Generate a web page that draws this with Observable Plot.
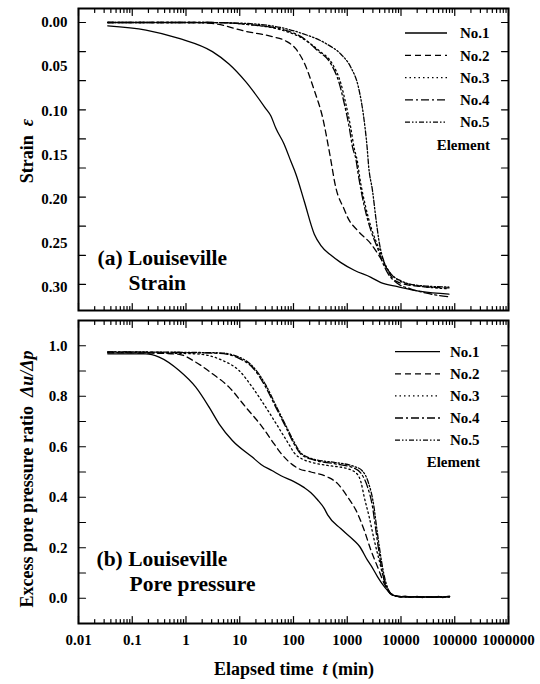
<!DOCTYPE html>
<html><head><meta charset="utf-8">
<script src="https://cdn.jsdelivr.net/npm/d3@7"></script>
<script src="https://cdn.jsdelivr.net/npm/@observablehq/plot@0.6"></script>
<style>
body{margin:0;background:#fff;}
#wrap{position:relative;width:540px;height:684px;font-family:"Liberation Serif","Times New Roman",serif;font-weight:bold;color:#000;background:#fff;}
#wrap svg{display:block;}
.ttl{position:absolute;white-space:nowrap;font-size:18px;font-weight:bold;line-height:1;}
</style></head><body><div id="wrap"></div>
<script>
// ---------- data ----------
const seriesNames = ["No.1", "No.2", "No.3", "No.4", "No.5"];
const xMajor = [0.01, 0.1, 1, 10, 100, 1000, 10000, 100000, 1000000];
const strainLabels = [0, 0.05, 0.10, 0.15, 0.20, 0.25, 0.30];
const strainTicks = [0, 0.033, 0.066, 0.099, 0.132, 0.165, 0.198, 0.231, 0.264, 0.297];
const poreLabels = [0, 0.2, 0.4, 0.6, 0.8, 1.0];
const poreTicks = [0, 0.1, 0.2, 0.3, 0.4, 0.5, 0.6, 0.7, 0.8, 0.9, 1.0];

// (a) Strain  [t (min), strain]
const strainNo1 = [[0.035,0.0037],[0.18,0.0085],[0.74,0.018],[3.1,0.033],[6.3,0.047],[12.9,0.067],[30,0.097],[38,0.106],[47,0.12],[67,0.138],[90,0.158],[111,0.172],[159,0.203],[244,0.24],[324,0.253],[500,0.264],[750,0.272],[1350,0.281],[2760,0.289],[4230,0.295],[8650,0.2995],[23400,0.305],[78000,0.308]];
const strainNo2 = [[0.035,0],[1,0],[3,0.001],[12.9,0.01],[40,0.016],[72,0.021],[111,0.03],[159,0.046],[244,0.077],[349,0.108],[463,0.146],[617,0.188],[880,0.212],[1016,0.221],[1560,0.236],[2760,0.251],[4880,0.274],[7480,0.292],[12000,0.297],[20000,0.299],[78000,0.301]];
const strainNo3 = [[0.035,0],[3,0],[13,0.002],[72,0.01],[138,0.017],[300,0.032],[530,0.047],[760,0.069],[940,0.092],[1160,0.119],[1340,0.142],[1540,0.157],[1700,0.175],[2200,0.209],[2900,0.236],[3800,0.255],[4700,0.27],[5800,0.281],[8800,0.292],[15000,0.297],[30000,0.3],[78000,0.302]];
const strainNo4 = [[0.035,0],[3,0],[13,0.002],[72,0.009],[138,0.016],[282,0.032],[498,0.047],[710,0.069],[880,0.092],[1090,0.119],[1260,0.142],[1450,0.155],[1600,0.172],[2070,0.208],[2760,0.236],[3670,0.256],[4550,0.272],[5640,0.284],[8650,0.296],[15000,0.302],[30000,0.307],[78000,0.311]];
const strainNo5 = [[0.035,0],[3,0],[13,0.001],[72,0.007],[138,0.012],[432,0.025],[764,0.036],[1170,0.051],[1610,0.073],[2000,0.105],[2330,0.14],[2520,0.165],[2940,0.19],[3410,0.222],[3950,0.25],[4880,0.272],[6490,0.285],[10000,0.293],[20000,0.298],[78000,0.3]];

// (b) Pore pressure ratio  [t (min), du/dp]
const poreNo1 = [[0.035,0.968],[0.179,0.968],[0.316,0.955],[0.745,0.902],[1.52,0.836],[2.69,0.757],[4.12,0.691],[7.28,0.625],[17.1,0.559],[24.9,0.53],[40.4,0.505],[58.6,0.485],[100,0.463],[159,0.438],[211,0.418],[280,0.39],[375,0.355],[432,0.33],[764,0.275],[1350,0.228],[1700,0.205],[2390,0.15],[2760,0.13],[3670,0.085],[4550,0.055],[5640,0.03],[7000,0.012],[10000,0.006],[12000,0.008],[15000,0.004],[20000,0.007],[25000,0.003],[30000,0.006],[40000,0.004],[50000,0.007],[60000,0.003],[70000,0.006],[80000,0.008]];
const poreNo2 = [[0.035,0.972],[0.36,0.97],[0.745,0.966],[1.52,0.935],[3.1,0.889],[6.32,0.836],[12.9,0.757],[26.3,0.678],[44,0.61],[58,0.575],[78,0.545],[120,0.515],[211,0.5],[432,0.48],[663,0.454],[1016,0.401],[1560,0.335],[2070,0.269],[2760,0.19],[3670,0.124],[4880,0.058],[6490,0.019],[8650,0.008],[15000,0.005],[40000,0.005],[80000,0.006]];
const poreNo3 = [[0.035,0.974],[1.52,0.968],[4.75,0.942],[9.7,0.902],[17.1,0.836],[30.4,0.757],[48,0.69],[82,0.61],[104,0.575],[150,0.55],[211,0.539],[432,0.526],[1016,0.513],[1560,0.49],[1800,0.46],[2070,0.401],[2560,0.322],[3180,0.23],[3930,0.15],[4880,0.071],[6490,0.019],[10000,0.006],[40000,0.005],[80000,0.006]];
const poreNo4 = [[0.035,0.976],[4.12,0.97],[9.7,0.95],[17.1,0.915],[30.4,0.836],[46.7,0.757],[71.7,0.678],[102,0.612],[138,0.57],[244,0.547],[573,0.533],[1350,0.515],[1800,0.495],[2390,0.44],[2960,0.361],[3410,0.269],[3930,0.177],[4550,0.098],[5640,0.032],[6980,0.012],[10000,0.006],[40000,0.005],[80000,0.006]];
const poreNo5 = [[0.035,0.976],[4.12,0.972],[9.7,0.955],[17.1,0.92],[30.4,0.845],[46.7,0.765],[71.7,0.685],[102,0.62],[138,0.575],[244,0.55],[573,0.538],[1350,0.522],[1900,0.505],[2500,0.455],[3100,0.37],[3550,0.275],[4100,0.18],[4750,0.1],[5800,0.035],[7200,0.012],[10000,0.006],[40000,0.005],[80000,0.006]];

// ---------- styles ----------
const dashes = ["none", "6,4", "1.5,3", "8,3,2,3", "5,2,1.5,2,1.5,2"];
const FONT = "'Liberation Serif', 'Times New Roman', serif";
const xMinor = xMajor.slice(0, -1).flatMap(d => [2,3,4,5,6,7,8,9].map(k => d * k));
const tickShape = {draw(ctx, l) { ctx.moveTo(0, 0); ctx.lineTo(0, -l); }};

function tickMarks(xMaj, xMin, yT) {
  const common = {anchor: "start", shape: tickShape, stroke: "black", strokeWidth: 1.2};
  return [
    Plot.vector(xMaj, {x: d => d, frameAnchor: "top", length: 7, rotate: 180, ...common}),
    Plot.vector(xMin, {x: d => d, frameAnchor: "top", length: 4, rotate: 180, ...common}),
    Plot.vector(xMaj, {x: d => d, frameAnchor: "bottom", length: 7, rotate: 0, ...common}),
    Plot.vector(xMin, {x: d => d, frameAnchor: "bottom", length: 4, rotate: 0, ...common}),
    Plot.vector(yT, {y: d => d, frameAnchor: "left", length: 7, rotate: 90, ...common}),
    Plot.vector(yT, {y: d => d, frameAnchor: "right", length: 7, rotate: -90, ...common})
  ];
}

function seriesLines(arrs) {
  return arrs.map((arr, i) => Plot.line(arr, {
    x: d => d[0], y: d => d[1], stroke: "black", strokeWidth: 1.3,
    strokeDasharray: dashes[i], curve: "monotone-x"
  }));
}

function addLegend(svg, x1, x2, xt, y0, dy, elemRight) {
  const g = d3.select(svg).append("g")
    .attr("font-family", FONT).attr("font-weight", "bold").attr("font-size", 15)
    .attr("text-anchor", "start");
  seriesNames.forEach((name, i) => {
    const y = y0 + i * dy;
    g.append("line").attr("x1", x1).attr("x2", x2).attr("y1", y).attr("y2", y)
      .attr("stroke", "black").attr("stroke-width", 1.3).attr("stroke-dasharray", dashes[i]);
    g.append("text").attr("x", xt).attr("y", y).attr("dy", "0.35em")
      .attr("text-anchor", "start").text(name);
  });
  g.append("text").attr("x", elemRight).attr("y", y0 + 5 * dy).attr("dy", "0.35em")
    .attr("text-anchor", "end").text("Element");
}

const styleObj = {fontFamily: FONT, fontSize: "15px", fontWeight: "bold", background: "white", color: "black"};

// ---------- top panel ----------
const topPlot = Plot.plot({
  width: 540, height: 312,
  marginTop: 8, marginBottom: 2, marginLeft: 78, marginRight: 32,
  x: {type: "log", domain: [0.01, 1e6], axis: null},
  y: {domain: [-0.0159, 0.3266], reverse: true, axis: null},
  style: styleObj,
  marks: [
    ...seriesLines([strainNo1, strainNo2, strainNo3, strainNo4, strainNo5]),
    ...tickMarks(xMajor, xMinor, strainTicks),
    Plot.axisY(strainLabels, {anchor: "left", tickSize: 0, tickPadding: 11, tickFormat: d3.format(".2f"), fontSize: 15, fontWeight: "bold"}),
    Plot.text(["(a) Louiseville"], {text: d => d, frameAnchor: "bottom-left", dx: 19, dy: -46, textAnchor: "start", fontSize: 21.5, fontWeight: "bold"}),
    Plot.text(["Strain"], {text: d => d, frameAnchor: "bottom-left", dx: 50, dy: -21, textAnchor: "start", fontSize: 21.5, fontWeight: "bold"}),
    Plot.frame({stroke: "black", strokeWidth: 2})
  ]
});

// ---------- bottom panel ----------
const bottomPlot = Plot.plot({
  width: 540, height: 372,
  marginTop: 8, marginBottom: 61, marginLeft: 78, marginRight: 32,
  x: {type: "log", domain: [0.01, 1e6], axis: null},
  y: {domain: [-0.1, 1.1], axis: null},
  style: styleObj,
  marks: [
    ...seriesLines([poreNo1, poreNo2, poreNo3, poreNo4, poreNo5]),
    ...tickMarks(xMajor, xMinor, poreTicks),
    Plot.axisY(poreLabels, {anchor: "left", tickSize: 0, tickPadding: 11, tickFormat: d3.format(".1f"), fontSize: 15, fontWeight: "bold"}),
    Plot.axisX(xMajor, {anchor: "bottom", tickSize: 0, tickPadding: 11, tickFormat: d => String(d), fontSize: 15, fontWeight: "bold", label: null}),
    Plot.text(["(b) Louiseville"], {text: d => d, frameAnchor: "bottom-left", dx: 18, dy: -58, textAnchor: "start", fontSize: 21.5, fontWeight: "bold"}),
    Plot.text(["Pore pressure"], {text: d => d, frameAnchor: "bottom-left", dx: 51, dy: -33, textAnchor: "start", fontSize: 21.5, fontWeight: "bold"}),
    Plot.frame({stroke: "black", strokeWidth: 2})
  ]
});

const wrap = document.getElementById("wrap");
wrap.appendChild(topPlot);
wrap.appendChild(bottomPlot);

addLegend(topPlot, 405, 447, 460, 33, 22.3, 490);
addLegend(bottomPlot, 395, 440, 450, 39.7, 22.1, 480);

// axis titles
function addTitle(html, left, topPx, rotate) {
  const d = document.createElement("div");
  d.className = "ttl";
  d.innerHTML = html;
  d.style.left = left + "px";
  d.style.top = topPx + "px";
  d.style.transform = rotate ? "translate(-50%,-50%) rotate(-90deg)" : "translate(-50%,-50%)";
  wrap.appendChild(d);
}
addTitle("Strain&nbsp; <i>ε</i>", 27, 151, true);
addTitle("Excess pore pressure ratio&nbsp; <i>Δu/Δp</i>", 27, 479, true);
addTitle("Elapsed time&nbsp; <i>t</i> (min)", 294, 669, false);
</script></body></html>
